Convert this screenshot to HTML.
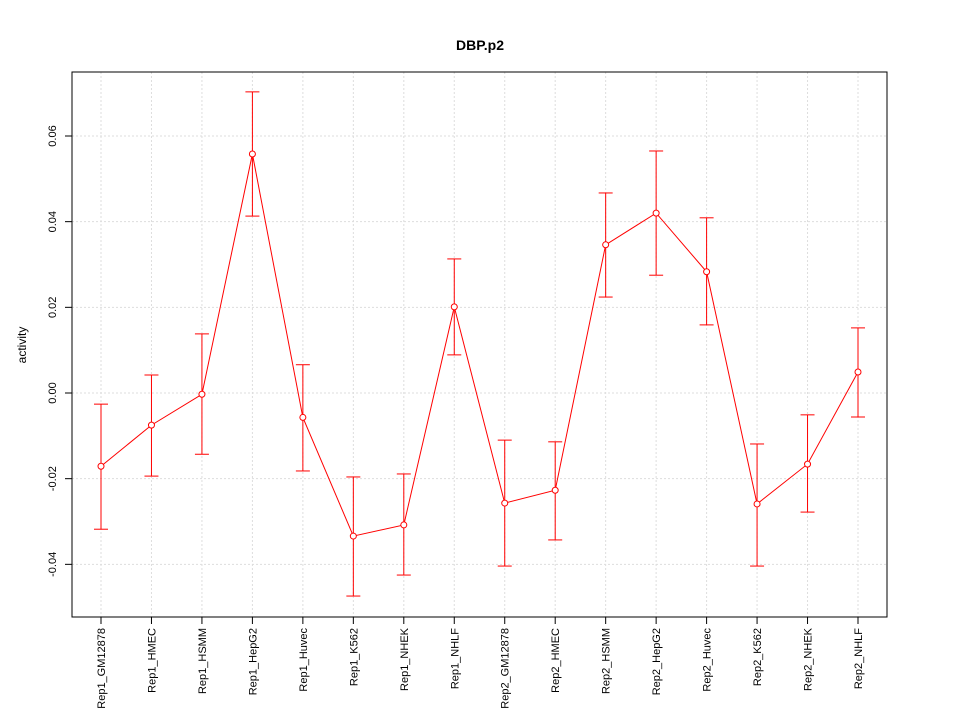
<!DOCTYPE html>
<html><head><meta charset="utf-8"><style>
html,body{margin:0;padding:0;background:#fff;}
svg{display:block;font-family:"Liberation Sans",sans-serif;}
</style></head><body>
<svg id="chart" width="960" height="720">
<text x="480" y="50" text-anchor="middle" font-size="14" font-weight="bold">DBP.p2</text>
<text transform="translate(26,345) rotate(-90)" text-anchor="middle" font-size="12">activity</text>
<g id="grid"></g><g id="axes"></g><g id="marks"></g>
<rect x="72" y="72" width="815" height="545" fill="none" stroke="#000"/>
</svg>
<script>
const categories=["Rep1_GM12878","Rep1_HMEC","Rep1_HSMM","Rep1_HepG2","Rep1_Huvec","Rep1_K562","Rep1_NHEK","Rep1_NHLF","Rep2_GM12878","Rep2_HMEC","Rep2_HSMM","Rep2_HepG2","Rep2_Huvec","Rep2_K562","Rep2_NHEK","Rep2_NHLF"];
const values=[-0.0171,-0.0075,-0.0003,0.0558,-0.0057,-0.0334,-0.0308,0.0201,-0.0257,-0.0227,0.0346,0.0420,0.0283,-0.0259,-0.0166,0.0049];
const upper=[-0.0026,0.0042,0.0138,0.0703,0.0066,-0.0196,-0.0189,0.0313,-0.0110,-0.0114,0.0467,0.0565,0.0409,-0.0119,-0.0051,0.0152];
const lower=[-0.0318,-0.0194,-0.0143,0.0413,-0.0182,-0.0474,-0.0425,0.0089,-0.0404,-0.0343,0.0224,0.0275,0.0159,-0.0404,-0.0278,-0.0056];
const yTicks=[-0.04,-0.02,0.00,0.02,0.04,0.06];
const yTickLabels=["-0.04","-0.02","0.00","0.02","0.04","0.06"];
const NS="http://www.w3.org/2000/svg";
function x(i){return 101+i*(858-101)/(categories.length-1);}
function y(v){return 393-v*(85.67/0.02);}
function mk(parent,tag,attrs){const e=document.createElementNS(NS,tag);for(const k in attrs)e.setAttribute(k,attrs[k]);document.getElementById(parent).appendChild(e);return e;}
yTicks.forEach((t,i)=>{
 let g=mk('grid','line',{x1:72,x2:887,y1:y(t),y2:y(t),stroke:'#ddd','stroke-dasharray':'2,2'});
 
 
 let tk=mk('axes','line',{x1:65,x2:72,y1:y(t),y2:y(t),stroke:'#000'});
 
 
 let tl=mk('axes','text',{transform:`translate(56,${y(t)}) rotate(-90)`,'text-anchor':'middle','font-size':11});
 tl.textContent=yTickLabels[i];
 
 
});
categories.forEach((c,i)=>{
 let g=mk('grid','line',{x1:x(i),x2:x(i),y1:72,y2:617,stroke:'#ddd','stroke-dasharray':'2,2'});
 
 
 let tk=mk('axes','line',{x1:x(i),x2:x(i),y1:617,y2:624,stroke:'#000'});
 
 
 let tl=mk('axes','text',{transform:`translate(${x(i)+4},628) rotate(-90)`,'text-anchor':'end','font-size':11});
 tl.textContent=c;
 
 
});
categories.forEach((c,i)=>{
 let w=mk('marks','line',{x1:x(i),x2:x(i),y1:y(upper[i]),y2:y(lower[i]),stroke:'#f00'});
 
 
 [upper[i],lower[i]].forEach(v=>{
  let cap=mk('marks','line',{x1:x(i)-7,x2:x(i)+7,y1:y(v),y2:y(v),stroke:'#f00'});
  
  
 });
});
let pl=mk('marks','polyline',{points:values.map((v,i)=>x(i)+','+y(v)).join(' '),fill:'none',stroke:'#f00'});


values.forEach((v,i)=>{
 let p=mk('marks','circle',{cx:x(i),cy:y(v),r:3,fill:'#fff',stroke:'#f00'});
 
 
});
</script>
</body></html>
